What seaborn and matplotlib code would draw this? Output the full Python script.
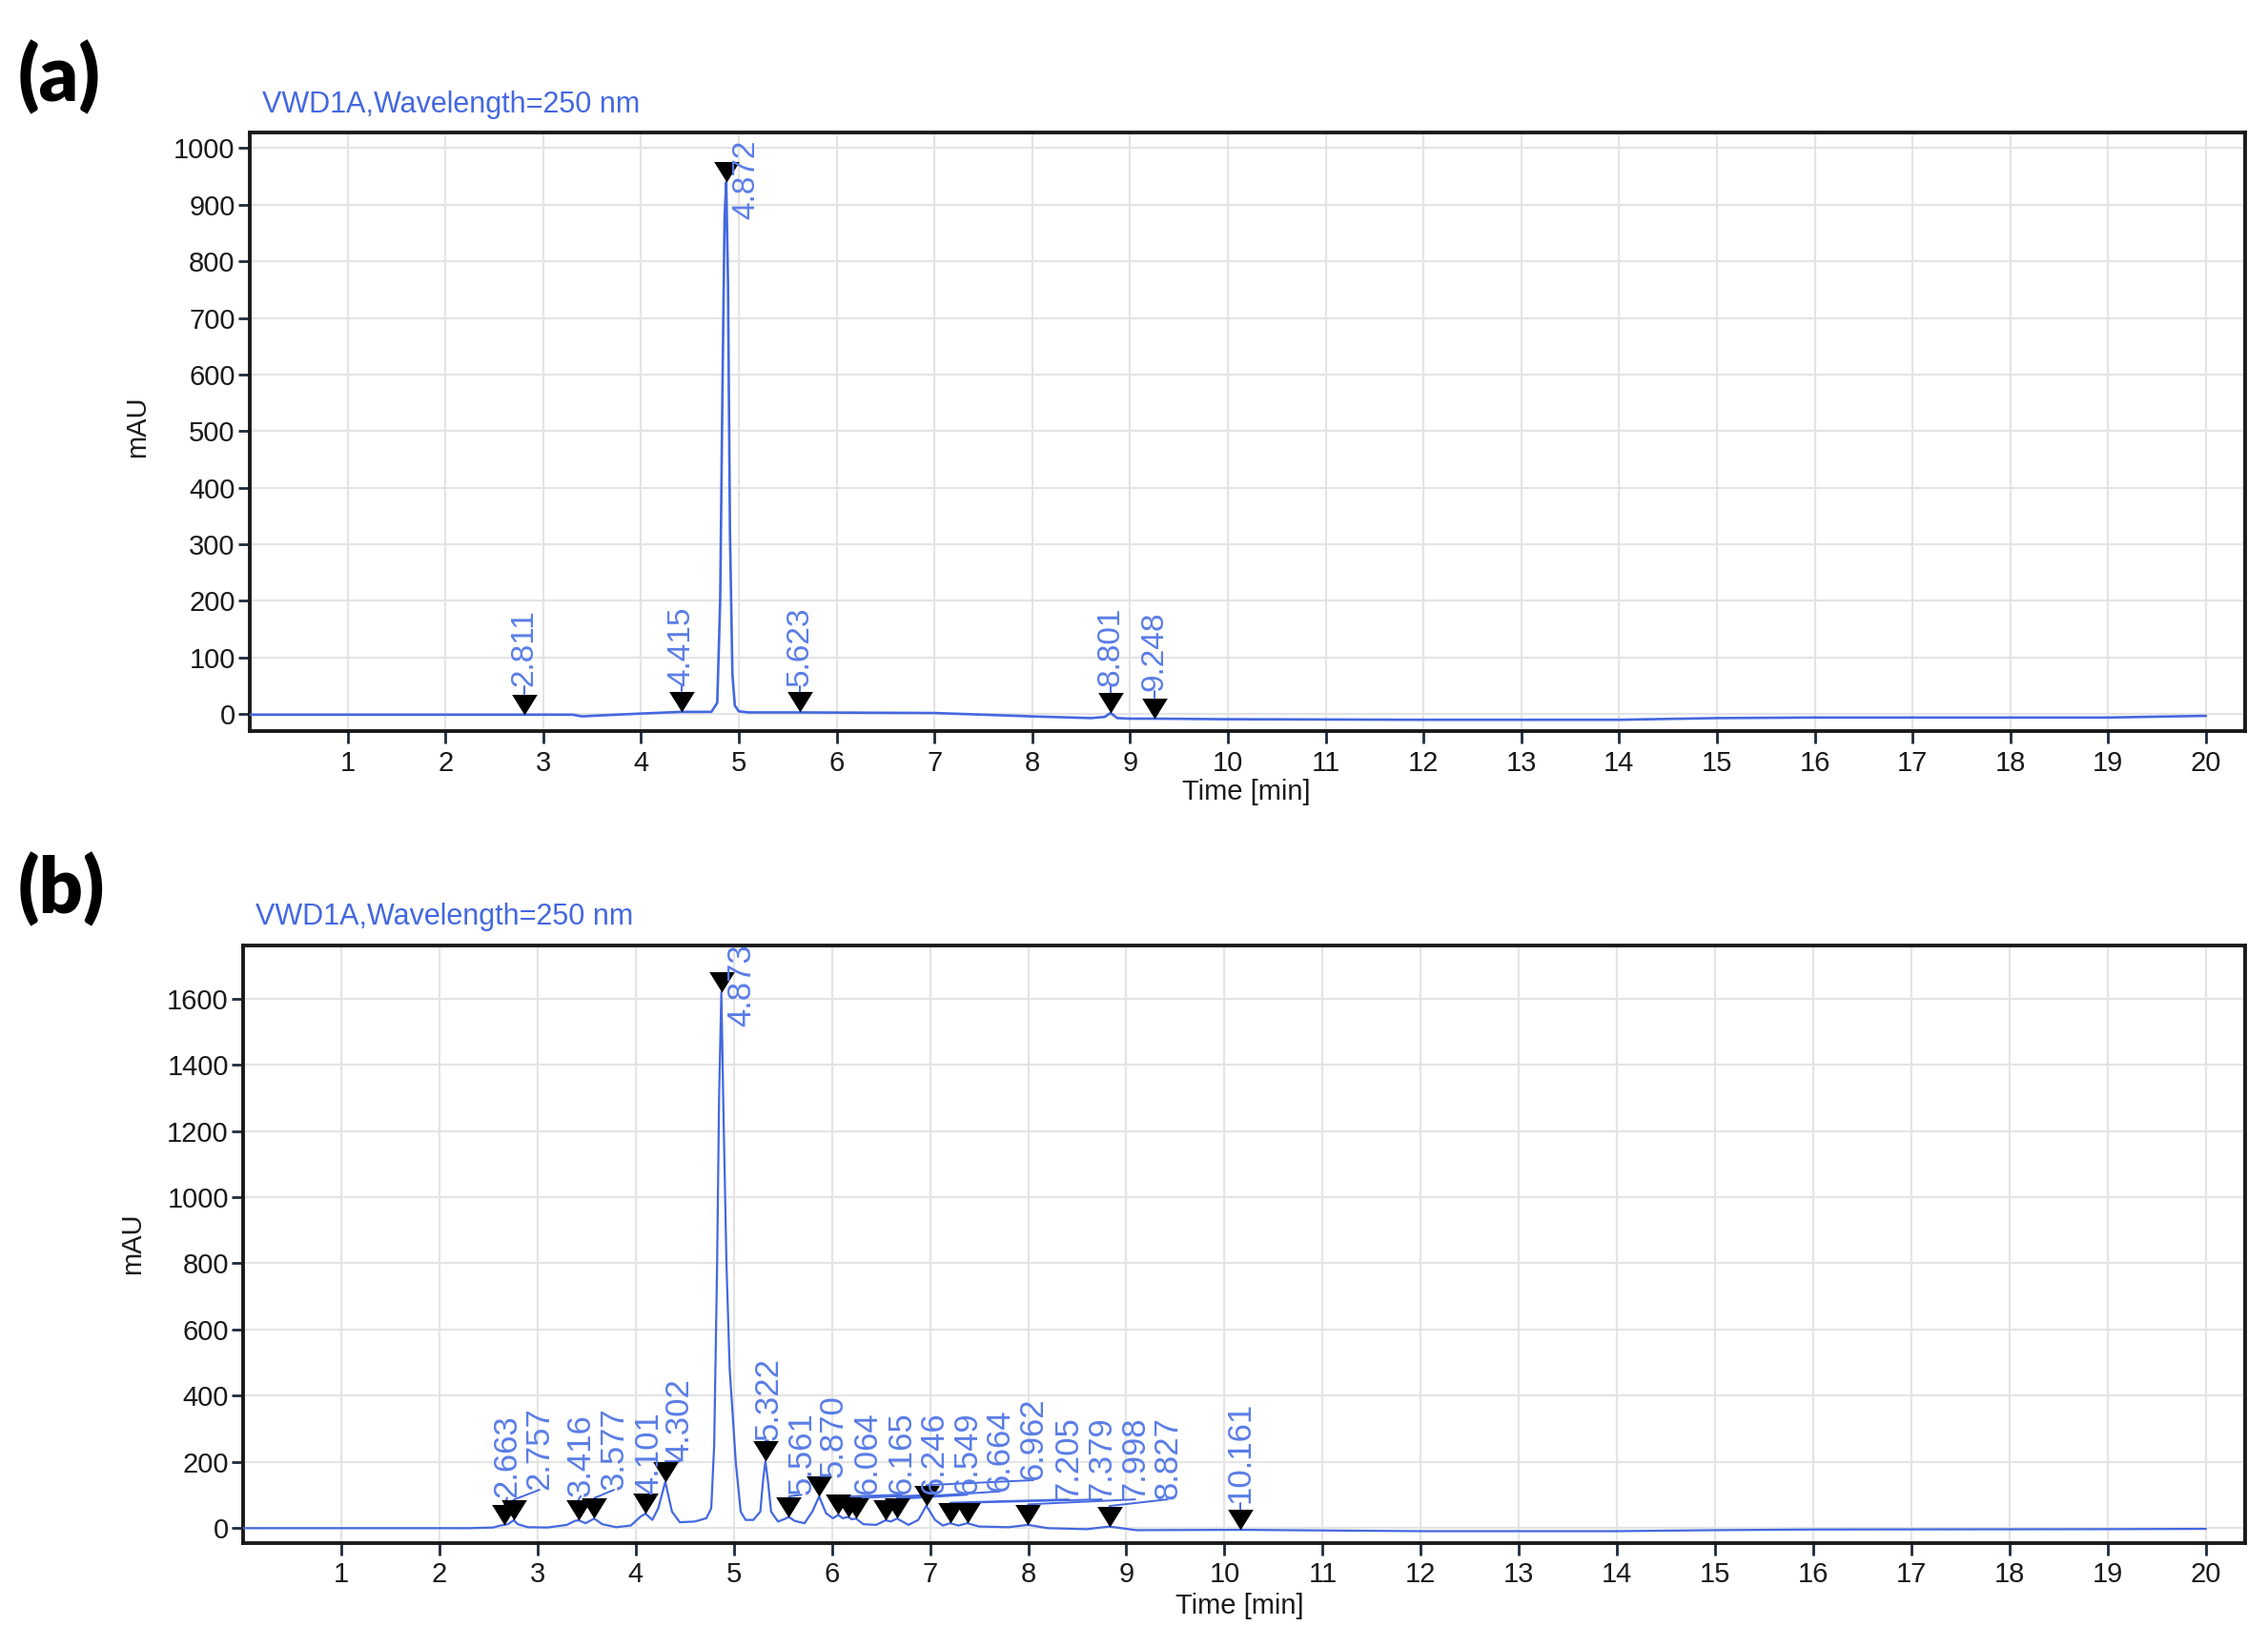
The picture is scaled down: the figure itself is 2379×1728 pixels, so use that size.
import matplotlib
matplotlib.use('Agg')
import matplotlib.pyplot as plt
from matplotlib.path import Path
from matplotlib.markers import MarkerStyle
import seaborn as sns

# ---------------- data ----------------
# Panel (a): chromatogram trace (time [min], mAU)
time_a = [0, 2.5, 2.811, 3.3, 3.4, 3.5, 4.0, 4.415, 4.72, 4.78, 4.81, 4.835, 4.855, 4.872,
          4.89, 4.91, 4.935, 4.96, 5.0, 5.1, 5.623, 7.0, 8.0, 8.6, 8.74, 8.801, 8.87,
          9.0, 9.248, 10, 12, 14, 15, 16, 19, 20]
signal_a = [-1, -1, -1, -1, -4, -3, 1, 4, 4, 20, 200, 600, 880, 940,
            760, 320, 70, 15, 5, 3, 3, 2, -4, -7, -5, 2, -7,
            -8, -8, -9, -10, -10, -7, -6, -6, -3]
peak_rt_a = [2.811, 4.415, 4.872, 5.623, 8.801, 9.248]
peak_h_a = [-1, 4, 940, 3, 2, -8]
peak_labels_a = ['2.811', '4.415', '4.872', '5.623', '8.801', '9.248']

# Panel (b): chromatogram trace (time [min], mAU)
time_b = [0, 2.3, 2.55, 2.62, 2.663, 2.70, 2.757, 2.80, 2.9, 3.1, 3.3, 3.38, 3.416, 3.49,
          3.577, 3.66, 3.8, 3.95, 4.05, 4.101, 4.17, 4.23, 4.302, 4.37, 4.45, 4.6, 4.72,
          4.77, 4.80, 4.83, 4.85, 4.873, 4.895, 4.925, 4.958, 4.99, 5.02, 5.07, 5.12,
          5.2, 5.27, 5.30, 5.322, 5.345, 5.38, 5.45, 5.52, 5.561, 5.62, 5.72, 5.80,
          5.87, 5.94, 6.01, 6.064, 6.11, 6.165, 6.20, 6.246, 6.32, 6.45, 6.549, 6.60,
          6.664, 6.78, 6.88, 6.962, 7.05, 7.13, 7.205, 7.29, 7.379, 7.5, 7.8, 7.998,
          8.2, 8.6, 8.827, 9.1, 10.161, 12, 14, 15, 16, 19, 20]
signal_b = [0, 0, 2, 8, 10, 12, 24, 12, 3, 2, 10, 22, 24, 15,
            29, 12, 3, 8, 35, 44, 25, 60, 140, 50, 18, 20, 30,
            60, 250, 800, 1300, 1619, 1250, 800, 480, 336, 200, 50, 25,
            25, 50, 150, 202, 150, 50, 20, 28, 34, 22, 15, 50,
            96, 45, 30, 40, 30, 34, 27, 29, 12, 10, 24, 20,
            29, 10, 25, 68, 25, 8, 15, 8, 15, 5, 3, 10,
            0, -3, 5, -6, -5, -9, -9, -6, -4, -3, -2]
peak_rt_b = [2.663, 2.757, 3.416, 3.577, 4.101, 4.302, 4.873, 5.322, 5.561, 5.870, 6.064,
             6.165, 6.246, 6.549, 6.664, 6.962, 7.205, 7.379, 7.998, 8.827, 10.161]
peak_h_b = [10, 24, 24, 29, 44, 140, 1619, 202, 34, 96, 40,
            34, 29, 24, 29, 68, 15, 15, 10, 5, -5]
peak_labels_b = ['2.663', '2.757', '3.416', '3.577', '4.101', '4.302', '4.873', '5.322',
                 '5.561', '5.870', '6.064', '6.165', '6.246', '6.549', '6.664', '6.962',
                 '7.205', '7.379', '7.998', '8.827', '10.161']

x_ticks = list(range(1, 21))
y_ticks_a = list(range(0, 1001, 100))
y_ticks_b = list(range(0, 1601, 200))
title_text = 'VWD1A,Wavelength=250 nm'
y_title = 'mAU'
x_title = 'Time [min]'
panel_tags = ['(a)', '(b)']

# ---------------- layout (positions of peak labels, bottom-centre) ----------------
label_x_a = [2.811, 4.415, 5.08, 5.623, 8.801, 9.248]
label_y_a = [50, 50, 875, 50, 50, 40]
label_x_b = [2.69, 3.02, 3.44, 3.78, 4.14, 4.45, 5.08, 5.35, 5.69, 6.01, 6.36, 6.71, 7.04,
             7.38, 7.71, 8.05, 8.41, 8.75, 9.09, 9.42, 10.161]
label_y_b = [92, 116, 97, 116, 101, 202, 1514, 265, 101, 154, 101, 101, 101,
             101, 111, 145, 87, 87, 87, 87, 77]

BLUE = '#4468e0'
LABEL_BLUE = '#5a7de6'
GRID = '#e4e4e4'
TICK = '#1e2a3c'

sns.set_theme(style='whitegrid')
plt.rcParams['font.family'] = ['Liberation Sans', 'DejaVu Sans']

fig = plt.figure(figsize=(23.79, 17.28), dpi=100)
fig.patch.set_facecolor('white')

ax_a = fig.add_axes([0.1101, 0.5561, 0.8798, 0.3632])
ax_b = fig.add_axes([0.1072, 0.0633, 0.8827, 0.3628])

tri = MarkerStyle(Path([(-0.62, 1.0), (0.62, 1.0), (0.0, 0.0), (-0.62, 1.0)],
                       [Path.MOVETO, Path.LINETO, Path.LINETO, Path.CLOSEPOLY]))
MARKER_S = 31.0  # points
MARKER_H_PX = 0.5 * MARKER_S * 100 / 72.0


def draw_panel(ax, t, sig, rts, hs, labels, lx, ly, ylim, yticks, lab_fs, lw):
    ax.set_xlim(0, 20.4)
    ax.set_ylim(*ylim)
    ax.set_facecolor('white')
    sns.lineplot(x=t, y=sig, ax=ax, color=BLUE, lw=lw, estimator=None, sort=False,
                 zorder=3)
    sns.scatterplot(x=rts, y=hs, ax=ax, marker=tri, s=MARKER_S ** 2, color='black',
                    edgecolor='black', linewidth=0, zorder=5)
    inv = ax.transData.inverted()
    for rt, h, lab, x0, y0 in zip(rts, hs, labels, lx, ly):
        px, py = ax.transData.transform((rt, h))
        _, ytop = inv.transform((px, py + MARKER_H_PX))
        if y0 > ytop:
            ax.plot([rt, x0], [ytop, y0], color=BLUE, lw=1.4, zorder=4)
        ax.text(x0, y0, lab, rotation=90, ha='center', va='bottom', fontsize=lab_fs,
                color=LABEL_BLUE, zorder=6, clip_on=False)
    ax.set_xticks(x_ticks)
    ax.set_xticklabels([str(v) for v in x_ticks])
    ax.set_yticks(yticks)
    ax.set_yticklabels([str(v) for v in yticks])
    ax.grid(True, color=GRID, lw=1.6)
    ax.set_axisbelow(True)
    ax.tick_params(axis='both', which='major', direction='out', length=9, width=2.0,
                   color=TICK, labelsize=21, labelcolor='#1a1a1a', bottom=True, left=True)
    ax.tick_params(axis='x', pad=5)
    ax.tick_params(axis='y', pad=2)
    for sp in ax.spines.values():
        sp.set_visible(True)
        sp.set_color('#1a1a1a')
        sp.set_linewidth(2.8)
    ax.set_xlabel('')
    ax.set_ylabel('')


draw_panel(ax_a, time_a, signal_a, peak_rt_a, peak_h_a, peak_labels_a, label_x_a,
           label_y_a, (-30, 1027), y_ticks_a, 24, 1.9)
draw_panel(ax_b, time_b, signal_b, peak_rt_b, peak_h_b, peak_labels_b, label_x_b,
           label_y_b, (-44, 1761), y_ticks_b, 25, 1.6)

# axis titles
ax_a.text(-0.0564, 0.509, y_title, rotation=90, ha='center', va='center', fontsize=21,
          color='#1a1a1a', transform=ax_a.transAxes)
ax_b.text(-0.055, 0.501, y_title, rotation=90, ha='center', va='center', fontsize=21,
          color='#1a1a1a', transform=ax_b.transAxes)
ax_a.text(0.4996, -0.102, x_title, ha='center', va='center', fontsize=21,
          color='#1a1a1a', transform=ax_a.transAxes)
ax_b.text(0.498, -0.106, x_title, ha='center', va='center', fontsize=21,
          color='#1a1a1a', transform=ax_b.transAxes)

# chart titles
fig.text(0.1158, 0.9363, title_text, ha='left', va='center', fontsize=22, color=BLUE)
fig.text(0.1127, 0.4433, title_text, ha='left', va='center', fontsize=22, color=BLUE)

# panel tags
fig.text(0.0080, 0.9530, panel_tags[0], ha='left', va='center', fontsize=58,
         fontweight='heavy', family=['Lato', 'DejaVu Sans'], color='black')
fig.text(0.0080, 0.4600, panel_tags[1], ha='left', va='center', fontsize=58,
         fontweight='heavy', family=['Lato', 'DejaVu Sans'], color='black')

fig.savefig('out.png', dpi=100, facecolor='white')
